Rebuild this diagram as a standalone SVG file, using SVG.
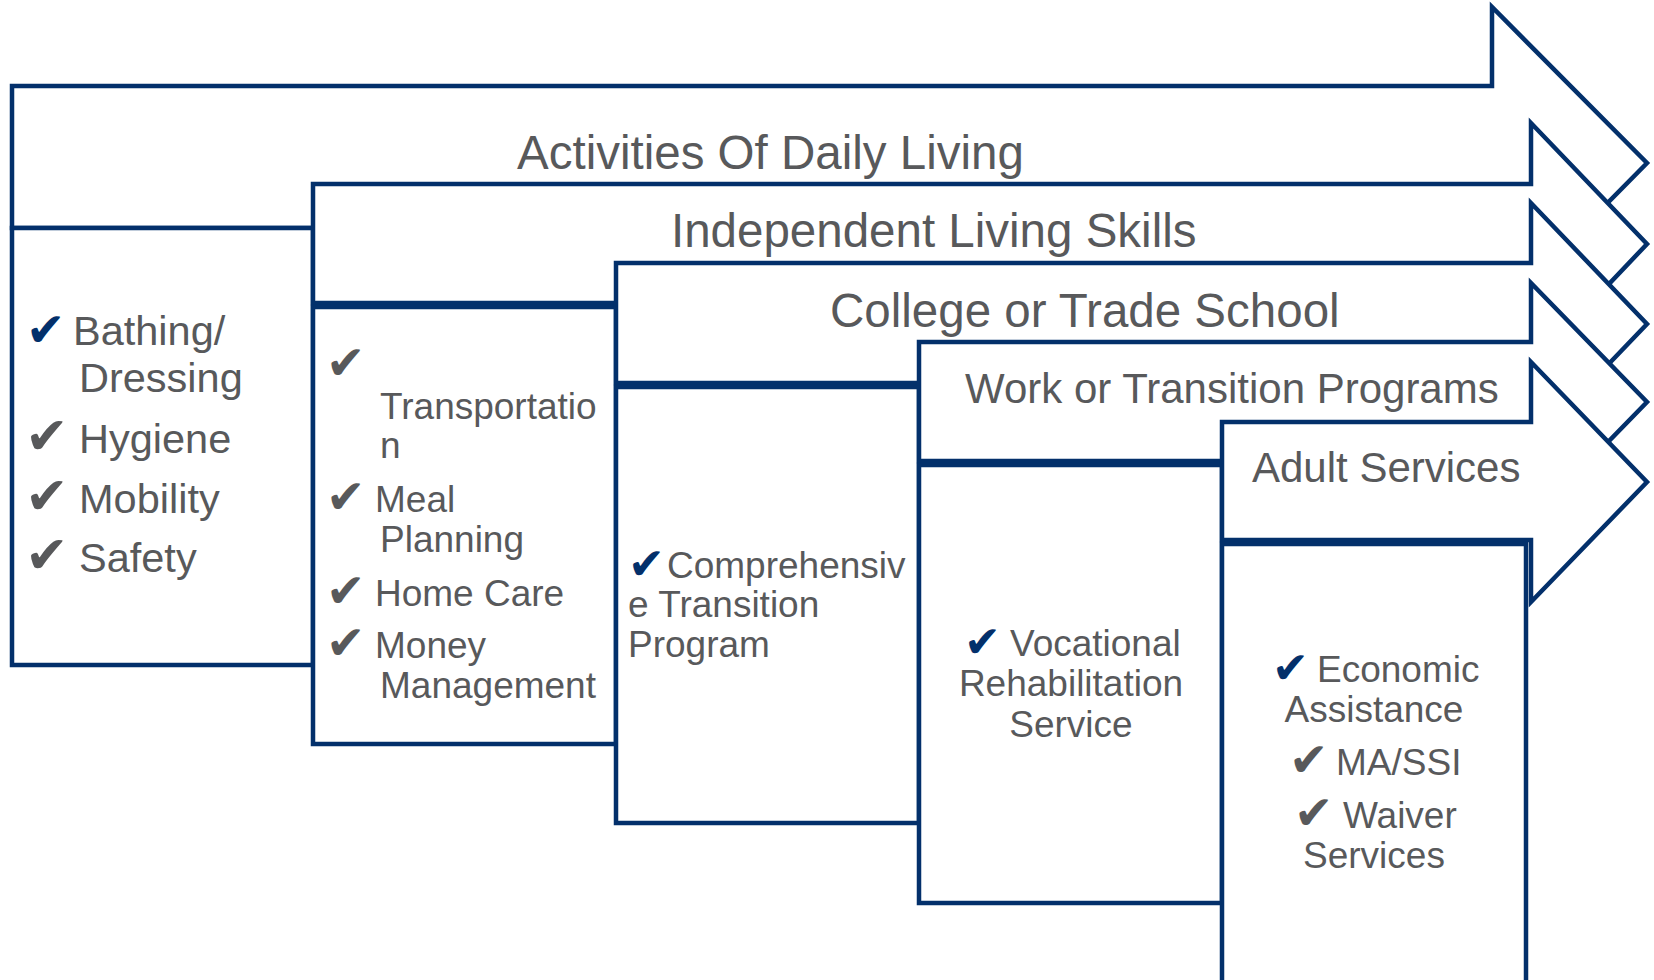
<svg xmlns="http://www.w3.org/2000/svg" width="1654" height="980" viewBox="0 0 1654 980">
<style>
.shape{fill:#ffffff;stroke:#03306b;stroke-width:4.5;stroke-linejoin:miter;stroke-miterlimit:10}
.t{font-family:"Liberation Sans",Arial,sans-serif;fill:#58595b}
.h1{font-size:47.5px}
.h2{font-size:42px}
.b1{font-size:41.5px}
.b2{font-size:37px}
.ck{font-family:"DejaVu Sans",sans-serif;fill:#58595b}
.ckn{font-family:"DejaVu Sans",sans-serif;fill:#03306b}
.c1{font-size:52px}
.c2{font-size:47px}
.c3{font-size:44px}
.mid{text-anchor:middle}
</style>
<rect width="1654" height="980" fill="#ffffff"/>
<g id="connectors"/>
<g id="activities-daily-living">
<polygon class="shape" points="12,86 1492,86 1492,7 1647,163 1492,320 1492,228 12,228"/>
<rect class="shape" x="12" y="228" width="301" height="437"/>
<text class="t h1" x="517" y="169">Activities Of Daily Living</text>
<text class="ckn c2" x="26" y="346">✔</text>
<text class="t b1" x="73" y="345">Bathing/</text>
<text class="t b1" x="79" y="392">Dressing</text>
<text class="ck c1" x="25" y="454">✔</text>
<text class="t b1" x="79" y="453">Hygiene</text>
<text class="ck c1" x="25" y="514">✔</text>
<text class="t b1" x="79" y="513">Mobility</text>
<text class="ck c1" x="25" y="573">✔</text>
<text class="t b1" x="79" y="572">Safety</text>
</g>
<g id="independent-living-skills">
<polygon class="shape" points="313,184 1531,184 1531,123 1647,244 1531,366 1531,303 313,303"/>
<rect class="shape" x="313" y="307" width="303" height="437"/>
<text class="t h1" x="671" y="247">Independent Living Skills</text>
<text class="ck c2" x="326" y="379">✔</text>
<text class="t b2" x="380" y="419">Transportatio</text>
<text class="t b2" x="380" y="458">n</text>
<text class="ck c2" x="326" y="513">✔</text>
<text class="t b2" x="375" y="512">Meal</text>
<text class="t b2" x="380" y="552">Planning</text>
<text class="ck c2" x="326" y="607">✔</text>
<text class="t b2" x="375" y="606">Home Care</text>
<text class="ck c2" x="326" y="659">✔</text>
<text class="t b2" x="375" y="658">Money</text>
<text class="t b2" x="380" y="698">Management</text>
</g>
<g id="college-trade-school">
<polygon class="shape" points="616,263 1531,263 1531,203 1647,324 1531,445 1531,383 616,383"/>
<rect class="shape" x="616" y="387" width="303" height="436"/>
<text class="t h1" x="830" y="327">College or Trade School</text>
<text class="ckn c3" x="628" y="579">✔</text>
<text class="t b2" x="667" y="578">Comprehensiv</text>
<text class="t b2" x="628" y="617">e Transition</text>
<text class="t b2" x="628" y="657">Program</text>
</g>
<g id="work-transition-programs">
<polygon class="shape" points="919,342 1531,342 1531,283 1647,402 1531,521 1531,461 919,461"/>
<rect class="shape" x="919" y="465" width="303" height="438"/>
<text class="t h2" x="965" y="403">Work or Transition Programs</text>
<text class="ckn c3" x="964" y="657">✔</text>
<text class="t b2" x="1010" y="656">Vocational</text>
<text class="t b2 mid" x="1071" y="696">Rehabilitation</text>
<text class="t b2 mid" x="1071" y="737">Service</text>
</g>
<g id="adult-services">
<polygon class="shape" points="1222,422 1531,422 1531,362 1647,482 1531,602 1531,540 1222,540"/>
<rect class="shape" x="1222" y="544" width="304" height="460"/>
<text class="t h2" x="1252" y="482">Adult Services</text>
<text class="ckn c3" x="1272" y="683">✔</text>
<text class="t b2" x="1317" y="682">Economic</text>
<text class="t b2 mid" x="1374" y="722">Assistance</text>
<text class="ck c2" x="1289" y="776">✔</text>
<text class="t b2" x="1336" y="775">MA/SSI</text>
<text class="ck c2" x="1294" y="829">✔</text>
<text class="t b2" x="1343" y="828">Waiver</text>
<text class="t b2 mid" x="1374" y="868">Services</text>
</g>
</svg>
